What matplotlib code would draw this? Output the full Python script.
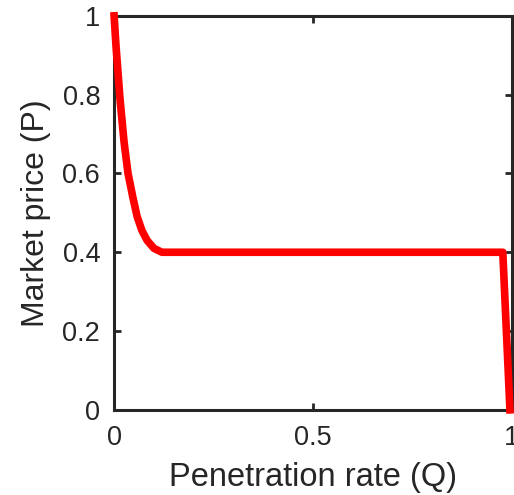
import numpy as np
import matplotlib
matplotlib.use('Agg')
import matplotlib.pyplot as plt

plt.rcParams['font.family'] = ['Liberation Sans', 'DejaVu Sans']

# penetration rate (Q) and market price (P)
q = [0.0, 0.005, 0.015, 0.025, 0.035, 0.047, 0.058, 0.07, 0.083, 0.1, 0.12, 0.5, 0.977, 0.995]
p = [1.0, 0.92, 0.787, 0.68, 0.60, 0.54, 0.49, 0.455, 0.43, 0.41, 0.40, 0.40, 0.40, 0.0]

xticks = [0, 0.5, 1]
yticks = [0, 0.2, 0.4, 0.6, 0.8, 1]

fig = plt.figure(figsize=(5.14, 4.95), dpi=100)
ax = fig.add_axes([0.222, 0.172, 0.774, 0.796])
ax.plot(q, p, color='#ff0000', lw=5.5, solid_joinstyle='round', clip_on=False, zorder=3)

ax.set_xlim(0, 1)
ax.set_ylim(0, 1)
ax.set_xticks(xticks)
ax.set_xticklabels(['0', '0.5', '1'])
ax.set_yticks(yticks)
ax.set_yticklabels(['0', '0.2', '0.4', '0.6', '0.8', '1'])
ax.tick_params(direction='in', length=5, width=2, top=True, right=True,
               labelsize=19.5, colors='#262626')
ax.tick_params(axis='x', pad=11)
ax.tick_params(axis='y', pad=10)
for s in ax.spines.values():
    s.set_linewidth(2.2)
    s.set_color('#262626')

ax.set_xlabel('Penetration rate (Q)', fontsize=23.5, color='#262626', labelpad=8)
ax.set_ylabel('Market price (P)', fontsize=23, color='#262626', labelpad=8)

fig.savefig('out.png', dpi=100)
